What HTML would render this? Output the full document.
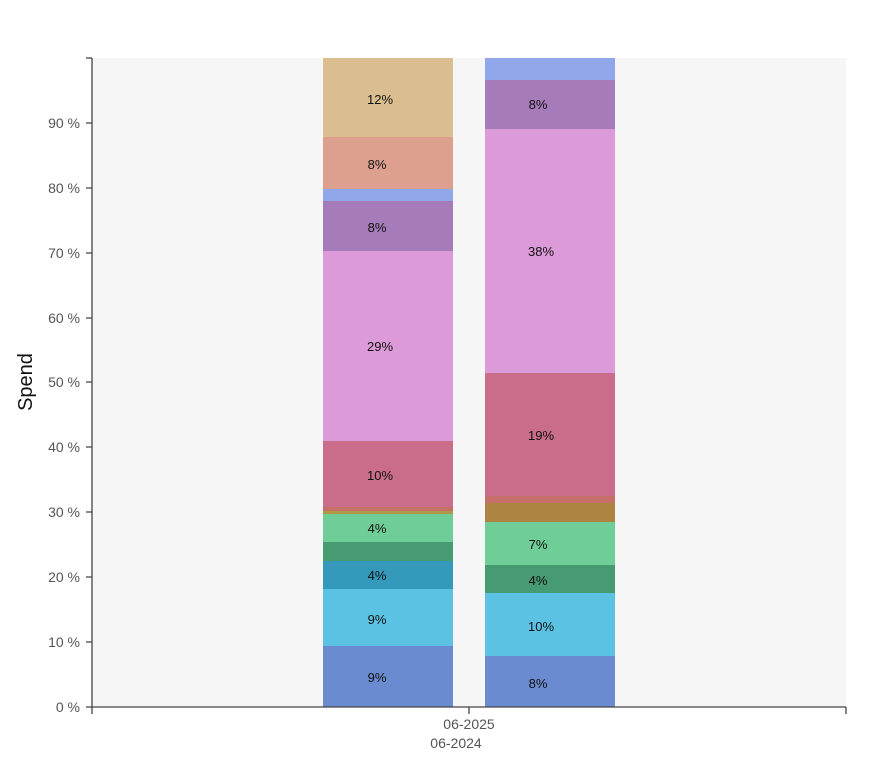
<!DOCTYPE html>
<html><head><style>body{margin:0;background:#fff}svg{display:block}text{font-family:"Liberation Sans",sans-serif}</style></head><body>
<svg width="888" height="760" viewBox="0 0 888 760">
<rect x="92" y="58" width="754" height="649" fill="#f6f6f6"/>
<g>
<rect x="323" y="646" width="130" height="61" fill="#6b8bd1"/>
<rect x="323" y="589" width="130" height="57" fill="#5bc2e3"/>
<rect x="323" y="561" width="130" height="28" fill="#3599bb"/>
<rect x="323" y="542" width="130" height="19" fill="#479b73"/>
<rect x="323" y="514" width="130" height="28" fill="#6fcd98"/>
<rect x="323" y="511" width="130" height="3" fill="#b09a4a"/>
<rect x="323" y="507" width="130" height="4" fill="#c7706a"/>
<rect x="323" y="441" width="130" height="66" fill="#c96d8a"/>
<rect x="323" y="251" width="130" height="190" fill="#dc9ad8"/>
<rect x="323" y="201" width="130" height="50" fill="#a67bb9"/>
<rect x="323" y="189" width="130" height="12" fill="#90a8ea"/>
<rect x="323" y="137" width="130" height="52" fill="#dda08e"/>
<rect x="323" y="58" width="130" height="79" fill="#dbbe90"/>

<rect x="485" y="656" width="130" height="51" fill="#6b8bd1"/>
<rect x="485" y="593" width="130" height="63" fill="#5bc2e3"/>
<rect x="485" y="565" width="130" height="28" fill="#479b73"/>
<rect x="485" y="522" width="130" height="43" fill="#6fcd98"/>
<rect x="485" y="503" width="130" height="19" fill="#ad8442"/>
<rect x="485" y="496" width="130" height="7" fill="#c7706a"/>
<rect x="485" y="373" width="130" height="123" fill="#c96d8a"/>
<rect x="485" y="129" width="130" height="244" fill="#dc9ad8"/>
<rect x="485" y="80" width="130" height="49" fill="#a67bb9"/>
<rect x="485" y="58" width="130" height="22" fill="#90a8ea"/>
</g>
<g font-size="13" fill="#111" text-anchor="middle">
<text x="377" y="682">9%</text><text x="377" y="624">9%</text><text x="377" y="580">4%</text><text x="377" y="533">4%</text><text x="380" y="480">10%</text><text x="380" y="351">29%</text><text x="377" y="232">8%</text><text x="377" y="169">8%</text><text x="380" y="104">12%</text>
<text x="538" y="688">8%</text><text x="541" y="631">10%</text><text x="538" y="585">4%</text><text x="538" y="549">7%</text><text x="541" y="440">19%</text><text x="541" y="256">38%</text><text x="538" y="109">8%</text>
</g>
<g stroke="#444" stroke-width="1.3" fill="none">
<path d="M92 58V707H846"/><path d="M86 58H92"/>
<path d="M86 707H92M86 642H92M86 577H92M86 512H92M86 447H92M86 382H92M86 318H92M86 253H92M86 188H92M86 123H92"/>
<path d="M92 707V714M469 707V714M846 707V714"/>
</g>
<g font-size="14" fill="#555" text-anchor="end">
<text x="80" y="712">0 %</text><text x="80" y="647">10 %</text><text x="80" y="582">20 %</text><text x="80" y="517">30 %</text><text x="80" y="452">40 %</text><text x="80" y="387">50 %</text><text x="80" y="323">60 %</text><text x="80" y="258">70 %</text><text x="80" y="193">80 %</text><text x="80" y="128">90 %</text>
</g>
<g font-size="14" fill="#555" text-anchor="middle">
<text x="469" y="729">06-2025</text><text x="456" y="748">06-2024</text>
</g>
<text x="32" y="382" font-size="20" fill="#111" text-anchor="middle" transform="rotate(-90 32 382)">Spend</text>
</svg>
</body></html>
